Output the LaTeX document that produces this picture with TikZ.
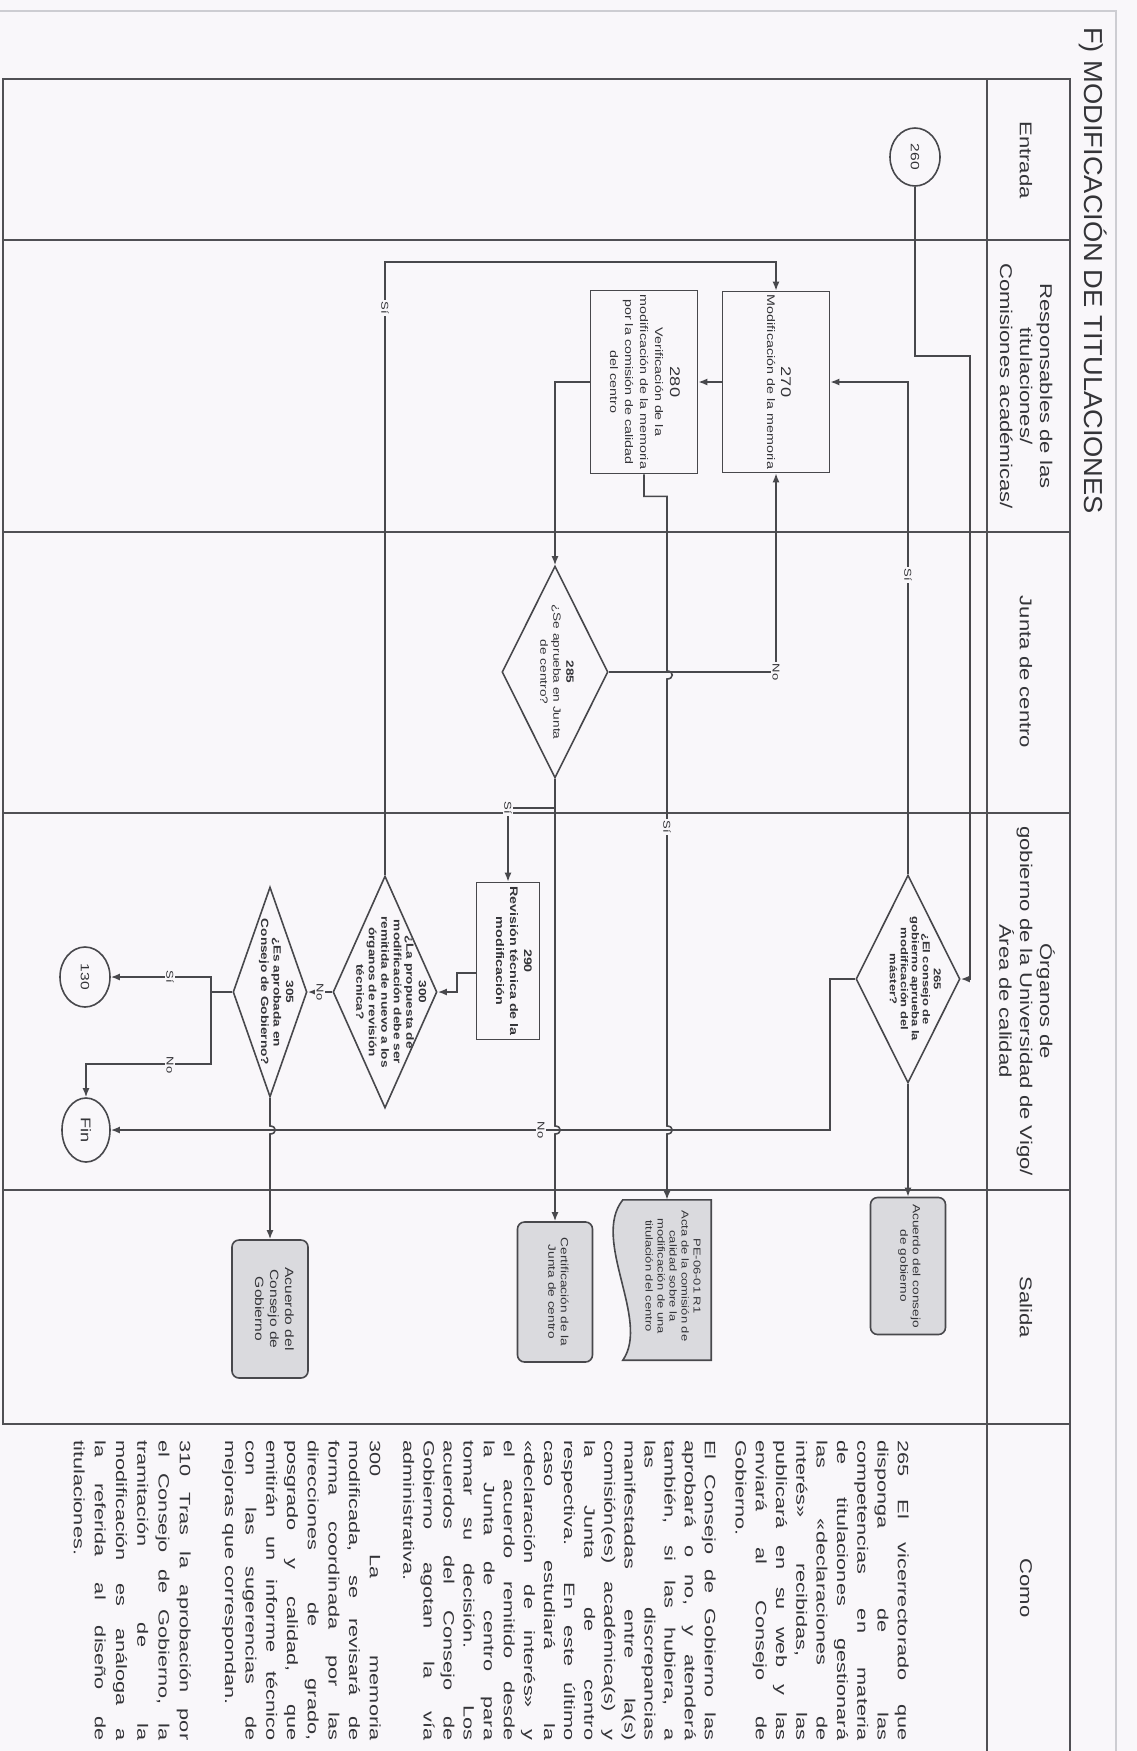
\documentclass[tikz,border=0pt]{standalone}
\usepackage{fontspec}
\setmainfont{Liberation Sans}
\usepackage{graphicx}
\usetikzlibrary{shapes.geometric,arrows.meta,calc}
\definecolor{bgc}{RGB}{249,247,250}
\definecolor{lnc}{RGB}{72,72,76}
\definecolor{frc}{RGB}{80,80,84}
\definecolor{fnt}{RGB}{205,205,210}
\definecolor{txc}{RGB}{52,52,56}
\definecolor{boxc}{RGB}{218,218,222}
\newcommand\hsx[2]{\scalebox{#1}[1]{#2}}
\newcommand\tbx[1]{\begin{tabular}{@{}c@{}}#1\end{tabular}}
\newcommand\jline[1]{\makebox[\linewidth][s]{#1}\\}
\begin{document}
\begin{tikzpicture}[x=1pt,y=-1pt,
  arr/.style={draw=lnc,line width=1.6pt,-{Latex[length=9pt,width=7pt]}},
  frame/.style={draw=frc,line width=1.4pt},
  faint/.style={draw=fnt,line width=1.2pt},
  proc/.style={rectangle,draw=lnc,line width=1.6pt,inner sep=0pt},
  dec/.style={diamond,draw=lnc,line width=1.6pt,inner sep=0pt},
  term/.style={ellipse,draw=lnc,line width=1.6pt,inner sep=0pt},
  outb/.style={rectangle,rounded corners=7pt,draw=lnc,line width=1.6pt,fill=boxc,inner sep=0pt},
  rt/.style={rotate=-90,inner sep=0pt,text=txc,align=center},
  hdr/.style={rt,font=\fontsize{17}{20}\selectfont},
  lbl/.style={rotate=-90,inner sep=1.5pt,fill=bgc,text=txc,font=\fontsize{10}{11}\selectfont},
]
\fill[bgc] (0,0) rectangle (1137,1751);
\useasboundingbox (0,0) rectangle (1137,1751);

% frames
\draw[faint] (0,11) -- (1116,11) -- (1116,1751);
\draw[frame] (3,79) rectangle (1070,1424);
\draw[frame] (987,79) -- (987,1751);
\draw[frame] (1070,1424) -- (1070,1751);
\foreach \yy in {240,532,813,1190} \draw[frame] (3,\yy) -- (1070,\yy);

% title and headers
\node[rt,anchor=west,font=\fontsize{26}{28}\selectfont] (title) at (1093,27) {\hsx{1.05}{F) MODIFICACIÓN DE TITULACIONES}};
\node[hdr] (h1) at (1026,160) {\hsx{1.3}{Entrada}};
\node[hdr] (h2) at (1024,386) {\hsx{1.3}{\tbx{Responsables de las\\ titulaciones/\\ Comisiones académicas/}}};
\node[hdr] (h3) at (1026,672) {\hsx{1.3}{Junta de centro}};
\node[hdr] (h4) at (1024,1001) {\hsx{1.3}{\tbx{Órganos de\\ gobierno de la Universidad de Vigo/\\ Área de calidad}}};
\node[hdr] (h5) at (1026,1307) {\hsx{1.3}{Salida}};
\node[hdr] (h6) at (1026,1588) {\hsx{1.3}{Como}};

% shapes
\node[term,minimum width=50pt,minimum height=58pt] (c260) at (915,157) {};
\node[rt,font=\fontsize{12}{12}\selectfont] (c260t) at (915,157) {\hsx{1.3}{260}};

\node[dec,minimum width=104pt,minimum height=208pt] (d265) at (908,979) {};
\node[rt,font=\bfseries\fontsize{10}{11}\selectfont] (d265t) at (914,979) {\hsx{1.3}{\tbx{265\\ ¿El consejo de\\ gobierno aprueba la\\ modificación del\\ máster?}}};

\node[proc,minimum width=107pt,minimum height=181pt] (b270) at (776,382) {};
\node[rt,font=\fontsize{11}{14}\selectfont] (b270t) at (777,382) {\hsx{1.3}{\tbx{{\fontsize{14}{15}\selectfont 270}\\ Modificación de la memoria}}};

\node[proc,minimum width=107pt,minimum height=183pt] (b280) at (644,382) {};
\node[rt,font=\fontsize{11}{15}\selectfont] (b280t) at (643,382) {\hsx{1.3}{\tbx{{\fontsize{14}{15}\selectfont 280}\\ Verificación de la\\ modificación de la memoria\\ por la comisión de calidad\\ del centro}}};

\node[dec,minimum width=106pt,minimum height=212pt] (d285) at (555,672) {};
\node[rt,font=\fontsize{10.5}{13}\selectfont] (d285t) at (556,672) {\hsx{1.3}{\tbx{\textbf{285}\\ ¿Se aprueba en Junta\\ de centro?}}};

\node[proc,minimum width=63pt,minimum height=157pt] (b290) at (508,961) {};
\node[rt,font=\bfseries\fontsize{11}{14}\selectfont] (b290t) at (513,961) {\hsx{1.3}{\tbx{290\\ Revisión técnica de la\\ modificación}}};

\node[dec,minimum width=104pt,minimum height=232pt] (d300) at (385,992) {};
\node[rt,font=\bfseries\fontsize{10.5}{12.5}\selectfont] (d300t) at (390,992) {\hsx{1.3}{\tbx{300\\ ¿La propuesta de\\ modificación debe ser\\ remitida de nuevo a los\\ órganos de revisión\\ técnica?}}};

\node[dec,minimum width=74pt,minimum height=210pt] (d305) at (270,992) {};
\node[rt,font=\bfseries\fontsize{10.5}{12.5}\selectfont] (d305t) at (276,992) {\hsx{1.3}{\tbx{305\\ ¿Es aprobada en\\ Consejo de Gobierno?}}};

\node[term,minimum width=50pt,minimum height=60pt] (c130) at (85,977) {};
\node[rt,font=\fontsize{12}{12}\selectfont] (c130t) at (85,977) {\hsx{1.3}{130}};

\node[term,minimum width=48pt,minimum height=64pt] (cFin) at (86,1130) {};
\node[rt,font=\fontsize{14}{14}\selectfont] (cFint) at (86,1130) {\hsx{1.3}{Fin}};

% outputs
\node[outb,minimum width=75pt,minimum height=137pt] (s1) at (908,1266) {};
\node[rt,font=\fontsize{10.5}{12.5}\selectfont] (s1t) at (909,1266) {\hsx{1.3}{\tbx{Acuerdo del consejo\\ de gobierno}}};

\node[rectangle,minimum width=88pt,minimum height=160pt,inner sep=0pt] (s2) at (667,1280) {};
\filldraw[draw=lnc,line width=1.6pt,fill=boxc] (s2.north east) -- (s2.south east) -- (s2.south west) .. controls +(28,-40) and +(-32,40) .. (s2.north west) -- cycle;
\node[rt,font=\fontsize{10}{12}\selectfont] (s2t) at (672,1276) {\hsx{1.3}{\tbx{PE-06-01 R1\\ Acta de la comisión de\\ calidad sobre la\\ modificación de una\\ titulación del centro}}};

\node[outb,minimum width=75pt,minimum height=140pt] (s3) at (555,1292) {};
\node[rt,font=\fontsize{10.5}{12.5}\selectfont] (s3t) at (557,1292) {\hsx{1.3}{\tbx{Certificación de la\\ Junta de centro}}};

\node[outb,minimum width=76pt,minimum height=138pt] (s4) at (270,1309) {};
\node[rt,font=\fontsize{12}{15}\selectfont] (s4t) at (273,1309) {\hsx{1.3}{\tbx{Acuerdo del\\ Consejo de\\ Gobierno}}};

% connectors
\coordinate (j1) at (970,356);
\coordinate (j2) at (555,808);
\draw[arr] (c260.south) |- (j1) |- (d265.east);
\draw[arr] (d265.north) |- (b270.east);
\draw[arr] (b270.west) -- (b280.east);
\draw[arr] (b280.west) -| (d285.north);
\draw[arr] (d285.east) -| (b270.south);
\draw[arr] (b280.south) -- ++(0,22) -| (667,671) .. controls (674,671) and (674,679) .. (667,679) -- (667,1126) .. controls (674,1126) and (674,1134) .. (667,1134) -- (s2.north);
\draw[arr] (d285.south) -- (555,1126) .. controls (562,1126) and (562,1134) .. (555,1134) -- (s3.north);
\draw[arr] (j2) -| (b290.north);
\draw[arr] ($(b290.west)+(0,12)$) -- ++(-19,0) |- (d300.east);
\draw[arr] (d300.north) |- ($(b270.north)+(0,-29)$) -- (b270.north);
\draw[arr] (d300.west) -- (d305.east);
\draw[arr] (d305.west) -- ++(-21,0) |- (c130.east);
\draw[arr] (d305.west) -- ++(-21,0) |- ($(cFin.north)+(0,-33)$) -- (cFin.north);
\draw[arr] (d265.west) -- ++(-25,0) |- (cFin.east);
\draw[arr] (d265.south) -- (s1.north);
\draw[arr] (d305.south) -- (270,1126) .. controls (277,1126) and (277,1134) .. (270,1134) -- (s4.north);

% labels
\node[lbl] (l1) at (908,575) {\hsx{1.3}{Sí}};
\node[lbl] (l2) at (776,672) {\hsx{1.3}{No}};
\node[lbl] (l3) at (667,827) {\hsx{1.3}{Sí}};
\node[lbl] (l4) at (508,808) {\hsx{1.3}{Sí}};
\node[lbl] (l5) at (385,308) {\hsx{1.3}{Sí}};
\node[lbl] (l6) at (320,992) {\hsx{1.3}{No}};
\node[lbl] (l7) at (170,977) {\hsx{1.3}{Sí}};
\node[lbl] (l8) at (170,1065) {\hsx{1.3}{No}};
\node[lbl] (l9) at (541,1130) {\hsx{1.3}{No}};

% Como column
\node[rt,anchor=north west,font=\fontsize{15}{20.3}\selectfont] (p1) at (909,1440) {\hsx{1.45}{\parbox{207pt}{%
\jline{265 El vicerrectorado que}
\jline{disponga de las}
\jline{competencias en materia}
\jline{de titulaciones gestionará}
\jline{las «declaraciones de}
\jline{interés» recibidas, las}
\jline{publicará en su web y las}
\jline{enviará al Consejo de}
Gobierno.}}};
\node[rt,anchor=north west,font=\fontsize{15}{20.1}\selectfont] (p2) at (716,1440) {\hsx{1.45}{\parbox{207pt}{%
\jline{El Consejo de Gobierno las}
\jline{aprobará o no, y atenderá}
\jline{también, si las hubiera, a}
\jline{las discrepancias}
\jline{manifestadas entre la(s)}
\jline{comisión(es) académica(s) y}
\jline{la Junta de centro}
\jline{respectiva. En este último}
\jline{caso estudiará la}
\jline{«declaración de interés» y}
\jline{el acuerdo remitido desde}
\jline{la Junta de centro para}
\jline{tomar su decisión. Los}
\jline{acuerdos del Consejo de}
\jline{Gobierno agotan la vía}
administrativa.}}};
\node[rt,anchor=north west,font=\fontsize{15}{20.7}\selectfont] (p3) at (381,1440) {\hsx{1.45}{\parbox{207pt}{%
\jline{300 La memoria}
\jline{modificada, se revisará de}
\jline{forma coordinada por las}
\jline{direcciones de grado,}
\jline{posgrado y calidad, que}
\jline{emitirán un informe técnico}
\jline{con las sugerencias de}
mejoras que correspondan.}}};
\node[rt,anchor=north west,font=\fontsize{15}{21.2}\selectfont] (p4) at (191,1440) {\hsx{1.45}{\parbox{207pt}{%
\jline{310 Tras la aprobación por}
\jline{el Consejo de Gobierno, la}
\jline{tramitación de la}
\jline{modificación es análoga a}
\jline{la referida al diseño de}
titulaciones.}}};
\end{tikzpicture}
\end{document}
